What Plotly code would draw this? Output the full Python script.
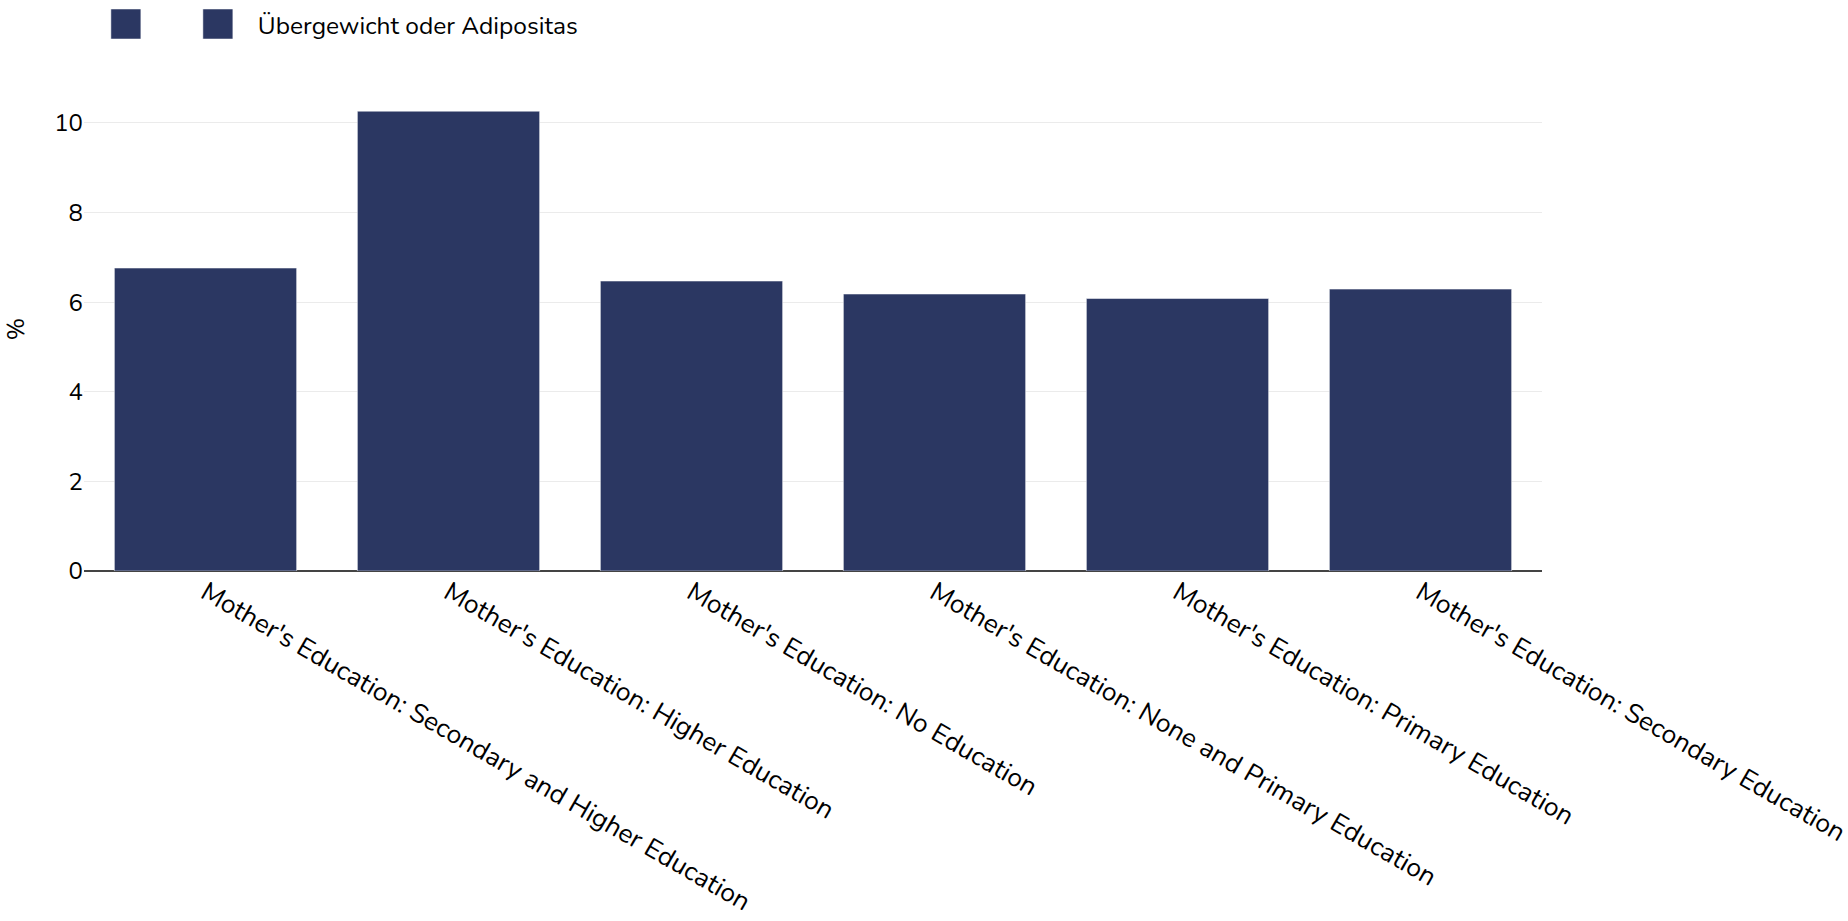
import plotly.graph_objects as go

categories = [
    "Mother's Education: Secondary and Higher Education",
    "Mother's Education: Higher Education",
    "Mother's Education: No Education",
    "Mother's Education: None and Primary Education",
    "Mother's Education: Primary Education",
    "Mother's Education: Secondary Education",
]
values = [6.76, 10.26, 6.47, 6.18, 6.08, 6.29]
blank_values = [None] * len(categories)
series_name = "Übergewicht oder Adipositas"
bar_color = "#2b3762"
font_family = "Nunito, Open Sans, sans-serif"

fig = go.Figure()
fig.add_trace(go.Bar(x=categories, y=blank_values, name=" ",
                     marker=dict(color=bar_color, line=dict(color="white", width=0.5))))
fig.add_trace(go.Bar(x=categories, y=values, name=series_name,
                     marker=dict(color=bar_color, line=dict(color="white", width=0.5))))

fig.update_layout(
    width=1848, height=921,
    template="plotly_white",
    barmode="overlay",
    bargap=0.25,
    font=dict(family=font_family, size=24, color="#000"),
    margin=dict(l=84, r=306, t=87, b=350, autoexpand=False),
    showlegend=True,
    legend=dict(orientation="h", x=0.015, xanchor="left", y=1.13, yanchor="middle",
                entrywidth=47, font=dict(size=24.5, color="#000")),
    plot_bgcolor="white", paper_bgcolor="white",
    xaxis=dict(tickangle=30, showgrid=False, automargin=False,
               tickfont=dict(size=26.5, color="#000")),
    yaxis=dict(title=dict(text="%", font=dict(size=24, color="#000"), standoff=22),
               gridcolor="#ebebeb", zeroline=True, zerolinecolor="#444", zerolinewidth=2,
               dtick=2, automargin=False, tickfont=dict(size=24, color="#000")),
)

post = """
document.body.style.margin = '0';
var gd = document.getElementById('{plot_id}');
function fixLegend(){
  gd.querySelectorAll('.legend .legendpoints path').forEach(function(p){
    p.setAttribute('d', 'M15,15H-15V-15H15Z');
  });
  gd.querySelectorAll('.legend [clip-path]').forEach(function(e){
    e.removeAttribute('clip-path');
  });
  gd.querySelectorAll('.legend text.legendtext').forEach(function(t){
    if (!t.dataset.origX) { t.dataset.origX = t.getAttribute('x') || '0'; }
    t.setAttribute('x', parseFloat(t.dataset.origX) + 20);
  });
}
fixLegend();
gd.on('plotly_afterplot', fixLegend);
"""
fig.write_html("out.html", post_script=post, config={"displayModeBar": False})
